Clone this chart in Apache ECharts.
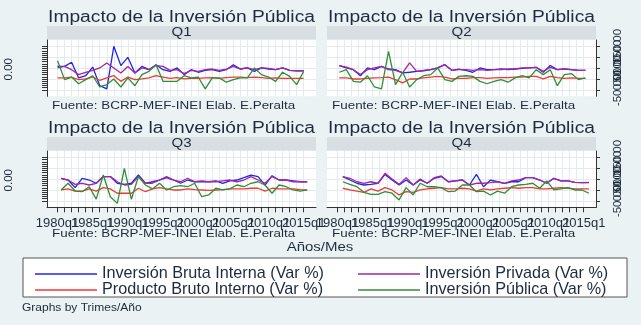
<!DOCTYPE html>
<html>
<head>
<meta charset="utf-8">
<script src="https://cdn.jsdelivr.net/npm/echarts@6/dist/echarts.min.js"></script>
<style>
  html, body { margin: 0; padding: 0; background: #eaf2f3; }
  #chart { width: 641px; height: 325px; }
</style>
</head>
<body>
<div id="chart"></div>
<script>
// años de la serie (una observación por trimestre y año)
const years = [1980, 1981, 1982, 1983, 1984, 1985, 1986, 1987, 1988, 1989,
  1990, 1991, 1992, 1993, 1994, 1995, 1996, 1997, 1998, 1999,
  2000, 2001, 2002, 2003, 2004, 2005, 2006, 2007, 2008, 2009,
  2010, 2011, 2012, 2013, 2014, 2015]
const labelYears = [1980, 1985, 1990, 1995, 2000, 2005, 2010, 2015]
const rightTicks = [-50, 0, 50, 100, 150]
const leftTicks = [-50, -40, -30, -20, -10, 0, 10, 20, 30, 40, 50, 60, 70, 80, 90, 100, 110, 120, 130, 140, 150]
const quarters = ['Q1', 'Q2', 'Q3', 'Q4']
const quarterShift = [0, 0.25, 0.5, 0.75]

const seriesNames = [
  'Inversión Bruta Interna (Var %)',
  'Producto Bruto Interno (Var %)',
  'Inversión Privada (Var %)',
  'Inversión Pública (Var %)'
]

// Inversión Bruta Interna
const ibiQ1 = [58, 58, 77, 5, 15, 55, -31, -46, 151, 62, 100, 28, 58, 43, 66, 43, 35, 51, 20, 43, 31, 40, 43, 35, 43, 66, 46, 51, 35, 51, 46, 43, 51, 40, 38, 38]
const ibiQ2 = [62, 51, 43, 15, 51, 43, 58, 46, 43, 28, 31, 35, 38, 43, 51, 66, 40, 46, 40, 31, 51, 43, 43, 46, 43, 46, 49, 51, 54, 31, 62, 43, 46, 43, 40, 40]
const ibiQ3 = [54, 46, 11, 54, 46, 31, 62, 62, 31, 26, 31, 69, 31, 38, 46, 57, 46, 31, 46, 38, 38, 38, 42, 31, 42, 46, 57, 69, 62, 23, 66, 46, 46, 42, 38, 38]
const ibiQ4 = [62, 46, 31, 23, 26, 31, 72, 46, 23, 46, 23, 46, 31, 54, 62, 38, 42, 46, 23, 72, 15, 46, 38, 31, 38, 38, 57, 57, 46, 31, 54, 42, 42, 35, 34, 34]

// Producto Bruto Interno
const pbiQ1 = [5, 5, 8, -3, 0, 9, -6, 5, 15, -11, 9, -3, 0, 5, 15, 9, 3, 6, 0, 3, 3, 5, 6, 3, 6, 9, 9, 6, 9, 6, 3, 5, 3, 3, 3, 3]
const pbiQ2 = [5, 5, 0, 0, 3, 5, 6, 9, -3, -18, 0, 0, 5, 9, 12, 9, 0, 3, 3, 6, 6, 3, 5, 6, 6, 9, 9, 12, 12, 0, 12, 6, 3, 5, 3, 3]
const pbiQ3 = [0, 5, -5, -5, 5, -5, 11, 5, -15, -15, -15, 8, -8, 5, 11, 5, 0, 0, 5, 2, 0, -2, 0, 2, 5, 5, 5, 8, 8, -5, 8, 5, 5, 5, 2, 0]
const pbiQ4 = [8, 0, -5, -11, 5, -5, 11, 0, -23, -8, -11, 0, 5, 8, 11, 5, 5, 8, 5, -5, 5, 0, 5, 8, 11, 8, 11, 11, 5, 5, 8, 11, 8, 5, 5, 5]

// Inversión Privada
const ipvQ1 = [51, 58, 43, 20, 31, 40, 51, 74, 51, 28, 58, 28, 51, 43, 62, 58, 40, 43, 25, 40, 35, 43, 46, 40, 46, 58, 46, 51, 43, 51, 49, 43, 51, 40, 38, 38]
const ipvQ2 = [62, 55, 43, 20, 43, 51, 58, 43, 40, 28, 74, 35, 40, 43, 51, 66, 40, 43, 43, 40, 43, 40, 43, 43, 46, 46, 51, 51, 54, 35, 54, 43, 46, 43, 40, 40]
const ipvQ3 = [54, 46, 26, 31, 23, 31, 62, 62, 38, 23, 26, 62, 31, 31, 46, 62, 46, 38, 54, 38, 42, 38, 38, 42, 46, 38, 46, 62, 46, 31, 62, 46, 46, 38, 38, 38]
const ipvQ4 = [62, 54, 38, 31, 38, 31, 77, 51, 26, 57, 23, 51, 31, 57, 65, 38, 42, 46, 23, 31, 31, 34, 38, 31, 42, 46, 57, 57, 46, 31, 54, 42, 42, 35, 34, 35]

// Inversión Pública
const ipuQ1 = [84, -3, 9, -22, -3, 15, -37, -26, 0, -37, 5, -31, 20, 35, 66, -11, -11, -11, 15, 5, 9, -46, 5, 5, -15, -3, 5, 5, 51, 20, 9, -11, 31, 12, -26, 35]
const ipuQ2 = [31, 43, -11, -15, 15, -37, -46, 128, -26, 31, -37, -3, 15, 20, 51, -3, -11, 12, 15, 12, -11, -22, -11, -3, -15, 5, 15, 5, 43, 20, 43, -31, 20, 25, -3, 5]
const ipuQ3 = [0, 31, -5, -8, 15, -42, 69, -31, -62, 100, -43, 62, 23, 5, 31, 0, 15, 20, 15, 31, -31, -23, 8, 0, 5, 23, 15, 31, 38, 23, -15, 23, 15, 0, -5, 0]
const ipuQ4 = [38, 26, 15, -11, -20, -20, -8, -15, -46, 11, -23, 31, 15, 15, 11, -8, -5, 23, 23, -8, -5, -23, -5, -15, 15, 23, 26, 31, 8, 42, 0, 5, 11, 0, 0, -15]

const panelData = [
  [ibiQ1, pbiQ1, ipvQ1, ipuQ1],
  [ibiQ2, pbiQ2, ipvQ2, ipuQ2],
  [ibiQ3, pbiQ3, ipvQ3, ipuQ3],
  [ibiQ4, pbiQ4, ipvQ4, ipuQ4]
]
const lineColors = ['#2424e6', '#ec3a34', '#a2279f', '#2f8f35']

const FONT = "'Liberation Sans', Arial, sans-serif"
const TXT = '#1e2b3c'
// estirado horizontal del grafico original
const STRETCH = 1.2

let chart = echarts.init(document.getElementById('chart'), null, {renderer: 'canvas'})

let colLeft = [47, 327]
let rowTop = [40, 151]
let plotW = 269
let plotH = 56.3

// echarts oculta la etiqueta vecina de la primera/ultima si se solapan;
// se ponen etiquetas vacias en los extremos para que todas las reales se vean (solapadas, como en Stata)
let xLabelValues = [labelYears[0] - 1].concat(labelYears, [labelYears[labelYears.length - 1] + 1])
let rightLabelValues = [rightTicks[0] - 20].concat(rightTicks, [rightTicks[rightTicks.length - 1] + 20])

let grids = [], xAxes = [], yAxes = [], series = [], graphics = []

quarters.forEach(function (q, i) {
    let col = i % 2
    let row = Math.floor(i / 2)
    let left = colLeft[col]
    let top = rowTop[row]
    let isBottom = row === 1

    grids.push({left: left, top: top, width: plotW, height: plotH, show: true, backgroundColor: '#fff', borderWidth: 0})

    xAxes.push({
        type: 'value', gridIndex: i, min: 1978.5, max: 2016.75, interval: 1,
        axisLine: {show: isBottom, onZero: false, lineStyle: {color: '#333', width: 1}},
        axisTick: {show: isBottom, length: 5, customValues: years, lineStyle: {color: '#333'}},
        axisLabel: {
            show: isBottom, customValues: xLabelValues, margin: 10, hideOverlap: false,
            showMinLabel: false, showMaxLabel: false,
            color: TXT, fontFamily: FONT, fontSize: 13,
            formatter: function (v) { return labelYears.indexOf(v) >= 0 ? v + 'q1' : '' }
        },
        splitLine: {show: true, lineStyle: {color: '#e4ebef', width: 1}}
    })

    // eje derecho (escala de las series)
    yAxes.push({
        type: 'value', gridIndex: i, position: 'right', min: -80, max: 180, interval: 20,
        axisLine: {show: col === 1, lineStyle: {color: '#333'}},
        axisTick: {show: col === 1, length: 4, customValues: rightTicks, lineStyle: {color: '#333'}},
        axisLabel: {
            show: col === 1, customValues: rightLabelValues, rotate: 90, margin: 16,
            showMinLabel: false, showMaxLabel: false, hideOverlap: false,
            color: TXT, fontFamily: FONT, fontSize: 11.5,
            formatter: function (v) { return rightTicks.indexOf(v) >= 0 ? v.toFixed(2) : '' }
        },
        splitLine: {show: true, lineStyle: {color: '#e4ebef', width: 1}}
    })
    // eje izquierdo con marcas densas
    yAxes.push({
        type: 'value', gridIndex: i, position: 'left', min: -80, max: 180,
        axisLine: {show: col === 0, lineStyle: {color: '#333'}},
        axisTick: {show: col === 0, length: 5, customValues: leftTicks, lineStyle: {color: '#333'}},
        axisLabel: {
            show: col === 0, customValues: [45], rotate: 90, margin: 32,
            color: TXT, fontFamily: FONT, fontSize: 11.5,
            formatter: function () { return '0.00' }
        },
        splitLine: {show: false}
    })

    panelData[i].forEach(function (vals, s) {
        series.push({
            name: seriesNames[s],
            type: 'line',
            xAxisIndex: i,
            yAxisIndex: i * 2,
            symbol: 'none',
            color: lineColors[s],
            lineStyle: {width: 1.3},
            data: years.map(function (y, j) { return [y + quarterShift[i], vals[j]] })
        })
    })

    // titulo del panel
    graphics.push({
        type: 'text', x: left + plotW / 2, y: top - 22, scaleX: STRETCH,
        style: {text: 'Impacto de la Inversión Pública', x: 0, y: 0, textAlign: 'center', textVerticalAlign: 'middle',
            font: '16px ' + FONT, fill: TXT}
    })
    // franja Qn
    graphics.push({
        type: 'rect', shape: {x: left, y: top - 14, width: plotW, height: 13.5},
        style: {fill: '#d7dfe3'}
    })
    graphics.push({
        type: 'text', x: left + plotW / 2, y: top - 7, scaleX: STRETCH,
        style: {text: q, x: 0, y: 0, textAlign: 'center', textVerticalAlign: 'middle', font: '12.5px ' + FONT, fill: TXT}
    })
    // nota
    graphics.push({
        type: 'text', x: left + 5, y: top + (isBottom ? 83 : 66), scaleX: STRETCH,
        style: {text: 'Fuente: BCRP-MEF-INEI Elab. E.Peralta', x: 0, y: 0, textAlign: 'left', textVerticalAlign: 'middle',
            font: '11.2px ' + FONT, fill: TXT}
    })
})

graphics.push({
    type: 'text', x: 320, y: 248, scaleX: STRETCH,
    style: {text: 'Años/Mes', x: 0, y: 0, textAlign: 'center', textVerticalAlign: 'middle', font: '12.5px ' + FONT, fill: TXT}
})
graphics.push({
    type: 'rect', shape: {x: 23, y: 258, width: 604, height: 39},
    style: {fill: '#fff', stroke: '#555', lineWidth: 1}
})
graphics.push({
    type: 'text', x: 22, y: 308, scaleX: STRETCH,
    style: {text: 'Graphs by Trimes/Año', x: 0, y: 0, textAlign: 'left', textVerticalAlign: 'middle', font: '10px ' + FONT, fill: TXT}
})

let legendBase = {
    orient: 'vertical', top: 261, itemWidth: 62, itemHeight: 1.6, itemGap: 0, icon: 'rect',
    textStyle: {color: TXT, fontFamily: FONT, fontSize: 16.2}, z: 10
}

chart.setOption({
    animation: false,
    backgroundColor: '#eaf2f3',
    graphic: graphics,
    legend: [
        Object.assign({}, legendBase, {left: 30, data: [seriesNames[0], seriesNames[1]]}),
        Object.assign({}, legendBase, {left: 353, data: [seriesNames[2], seriesNames[3]]})
    ],
    grid: grids,
    xAxis: xAxes,
    yAxis: yAxes,
    series: series
})
</script>
</body>
</html>
